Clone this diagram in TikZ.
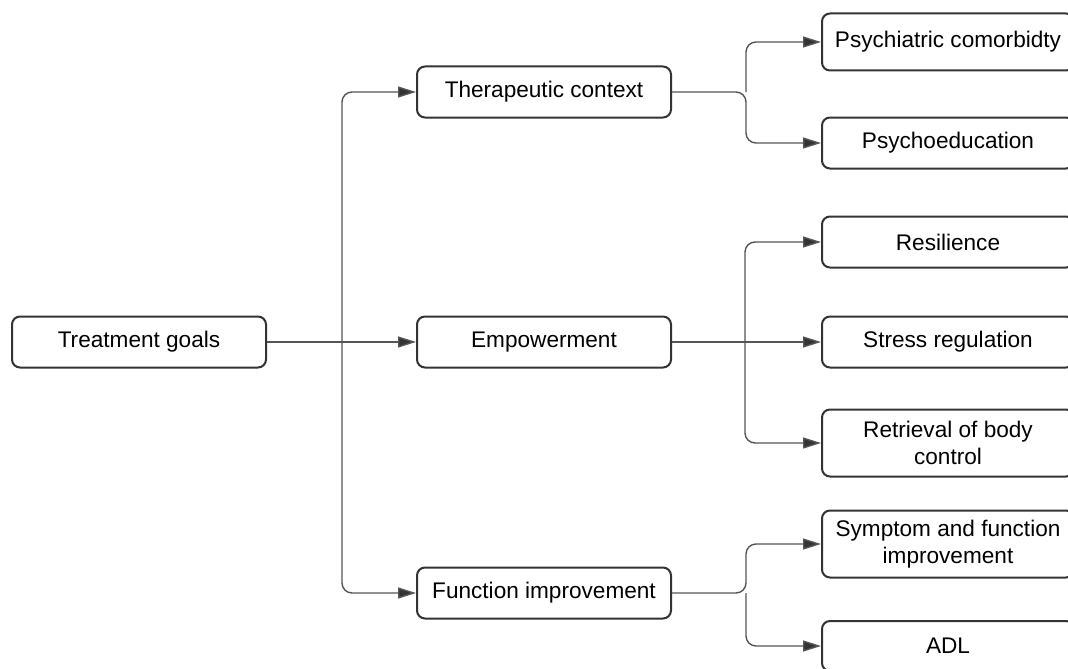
\documentclass[tikz,border=0pt]{standalone}
\usepackage{fontspec}
\setmainfont{Liberation Sans}
\usetikzlibrary{arrows.meta}
\definecolor{boxc}{HTML}{333333}
\definecolor{linec}{HTML}{555555}
\begin{document}
\begin{tikzpicture}[x=1pt,y=-1pt,
  box/.style={draw=boxc, line width=2pt, rounded corners=8pt, fill=white,
    minimum width=254pt, minimum height=51pt, align=center, inner sep=0pt,
    font=\fontsize{22.6}{27}\selectfont, text=black},
  rbox/.style={box, minimum width=252pt},
  conn/.style={draw=linec, line width=1.4pt, rounded corners=10pt},
  arr/.style={conn, -{Triangle[length=18pt,width=11pt,fill=boxc]}}]
\useasboundingbox (0,0) rectangle (1068,669);
\fill[white] (0,0) rectangle (1068,669);
\node[box] (tg) at (139,342) {Treatment goals};
\node[box] (tc) at (544,92) {Therapeutic context};
\node[box] (emp) at (544,342) {Empowerment};
\node[box] (fi) at (544,593) {Function improvement};
\node[rbox, minimum height=57pt] (pc) at (948,42) {Psychiatric comorbidty};
\node[rbox] (pe) at (948,143) {Psychoeducation};
\node[rbox] (res) at (948,242) {Resilience};
\node[rbox] (sr) at (948,342) {Stress regulation};
\node[rbox, minimum height=67pt] (rb) at (948,443) {Retrieval of body\\control};
\node[rbox, minimum height=67pt] (sf) at (948,544) {Symptom and function\\improvement};
\node[rbox, minimum height=50pt] (adl) at (948,646) {ADL};
\coordinate (j0) at (342,342);
\coordinate (j1) at (746,92);
\coordinate (j2) at (745,342);
\coordinate (j3) at (746,593);
\draw[arr] (tg) -- (emp);
\draw[arr] (j0) |- (tc.west);
\draw[arr] (j0) |- (fi.west);
\draw[arr] (tc.east) -- (j1) |- (pe.west);
\draw[arr] (j1) |- (pc.west);
\draw[arr] (emp) -- (sr);
\draw[arr] (j2) |- (res.west);
\draw[arr] (j2) |- (rb.west);
\draw[arr] (fi.east) -- (j3) |- (sf.west);
\draw[arr] (j3) |- (adl.west);
\end{tikzpicture}
\end{document}
